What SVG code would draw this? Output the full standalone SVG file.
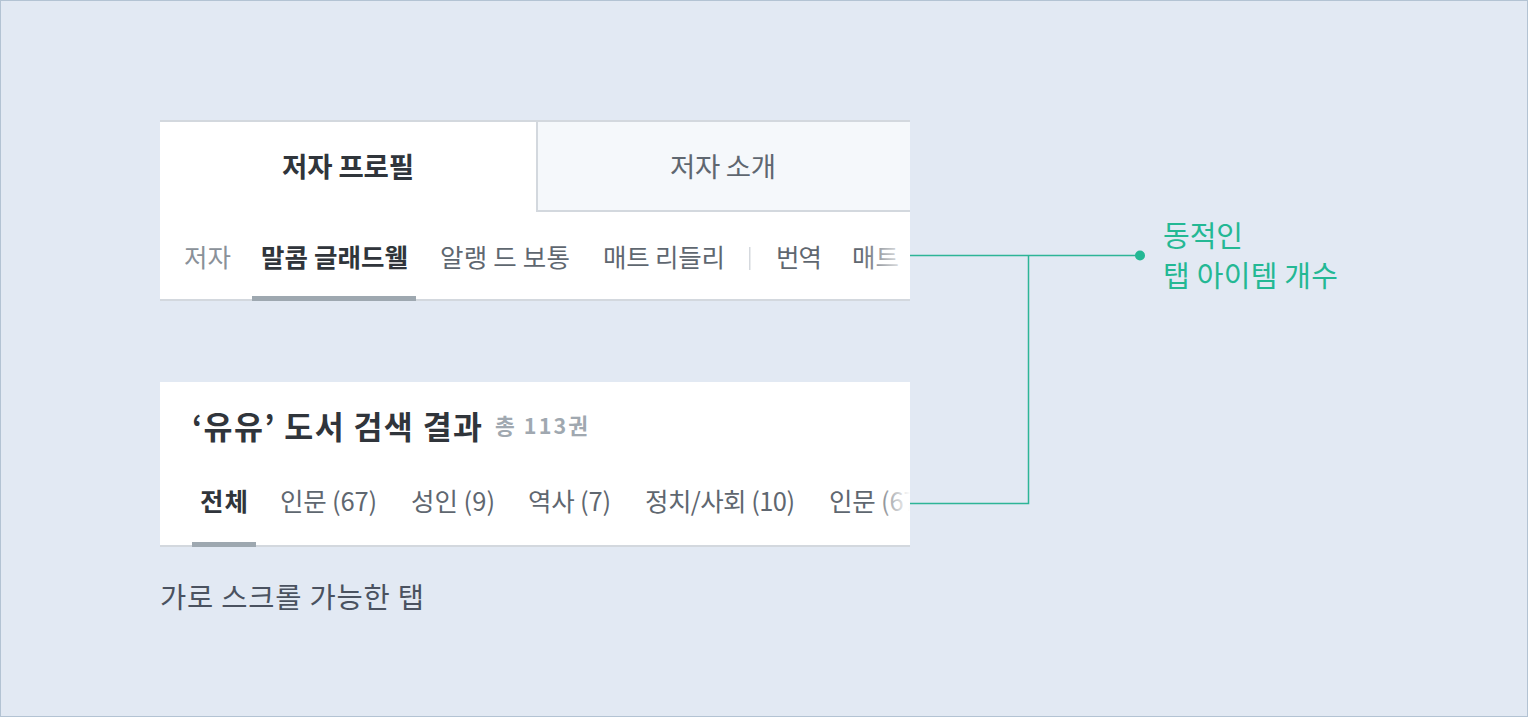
<svg xmlns="http://www.w3.org/2000/svg" width="1528" height="717" viewBox="0 0 1528 717">
<style>
.t{font-family:"Noto Sans CJK KR","Noto Sans",sans-serif}
.tab{font-size:27.5px;text-anchor:middle}
.item{font-size:25.5px;fill:#5f6770}
.bold{font-weight:700;fill:#30353b}
.conn{fill:none;stroke:#2db596;stroke-width:1.5}
.note{font-size:29px;fill:#24b894}
</style>
<defs>
<linearGradient id="fade" x1="0" x2="1" y1="0" y2="0">
<stop offset="0" stop-color="#fff" stop-opacity="0"/>
<stop offset="1" stop-color="#fff" stop-opacity="1"/>
</linearGradient>
<clipPath id="clipTop"><rect x="160" y="212" width="750" height="89"/></clipPath>
<clipPath id="clipBottom"><rect x="160" y="460" width="750" height="87"/></clipPath>
</defs>
<rect x="0.5" y="0.5" width="1527" height="716" fill="#e2e9f3" stroke="#b3c3d3"/>

<g id="panel-top">
<rect x="160" y="121" width="750" height="180" fill="#fff"/>
<rect x="160" y="120" width="750" height="2" fill="#d3d8de"/>
<g id="tab-profile">
<text class="t tab bold" x="348" y="177" textLength="132">저자 프로필</text>
</g>
<g id="tab-intro">
<rect x="537" y="122" width="373" height="88" fill="#f5f8fb"/>
<rect x="536" y="122" width="2" height="90" fill="#d3d8de"/>
<rect x="536" y="210" width="374" height="2" fill="#d3d8de"/>
<text class="t tab" x="723" y="177" fill="#5f6770" textLength="106">저자 소개</text>
</g>
<g id="author-items" clip-path="url(#clipTop)">
<text class="t item" x="184" y="267" style="fill:#8a9199" textLength="47">저자</text>
<text class="t item bold" x="261" y="267" textLength="147">말콤 글래드웰</text>
<text class="t item" x="440" y="267" textLength="130">알랭 드 보통</text>
<text class="t item" x="603" y="267" textLength="122">매트 리들리</text>
<rect x="749" y="247" width="1.5" height="23" fill="#d5d9de"/>
<text class="t item" x="776" y="267" textLength="46">번역</text>
<text class="t item" x="852" y="267" textLength="47">매트</text>
<rect x="860" y="230" width="50" height="60" fill="url(#fade)"/>
</g>
<rect x="160" y="299" width="750" height="2" fill="#d3d8de"/>
<rect x="252" y="296" width="164" height="5" fill="#9ea8b0"/>
</g>

<g id="panel-bottom">
<rect x="160" y="382" width="750" height="165" fill="#fff"/>
<text class="t" x="192" y="439" font-size="31.5" font-weight="700" fill="#30353b" textLength="290">‘유유’ 도서 검색 결과</text>
<text class="t" x="495" y="434" font-size="21.5" font-weight="700" fill="#a0a8b0" textLength="93">총 113권</text>
<g id="category-items" clip-path="url(#clipBottom)">
<text class="t item bold" x="200" y="511" textLength="48">전체</text>
<text class="t item" x="280" y="511" textLength="97">인문 (67)</text>
<text class="t item" x="411" y="511" textLength="84">성인 (9)</text>
<text class="t item" x="528" y="511" textLength="83">역사 (7)</text>
<text class="t item" x="645" y="511" textLength="150">정치/사회 (10)</text>
<text class="t item" x="829" y="511" textLength="97">인문 (67)</text>
<rect x="872" y="470" width="38" height="60" fill="url(#fade)"/>
</g>
<rect x="160" y="545" width="750" height="2" fill="#d3d8de"/>
<rect x="192" y="542" width="64" height="5" fill="#9ea8b0"/>
</g>

<g id="connectors">
<path class="conn" d="M910 255.5 H1140"/>
<path class="conn" d="M1028.5 255.5 V503.5 H910"/>
<circle cx="1140" cy="255.5" r="5" fill="#24b894"/>
</g>

<g id="note">
<text class="t note" x="1163" y="247" textLength="80">동적인</text>
<text class="t note" x="1163" y="287" textLength="175">탭 아이템 개수</text>
</g>

<g id="caption">
<text class="t" x="160" y="608" font-size="28.5" fill="#4a5260" textLength="264">가로 스크롤 가능한 탭</text>
</g>
</svg>
